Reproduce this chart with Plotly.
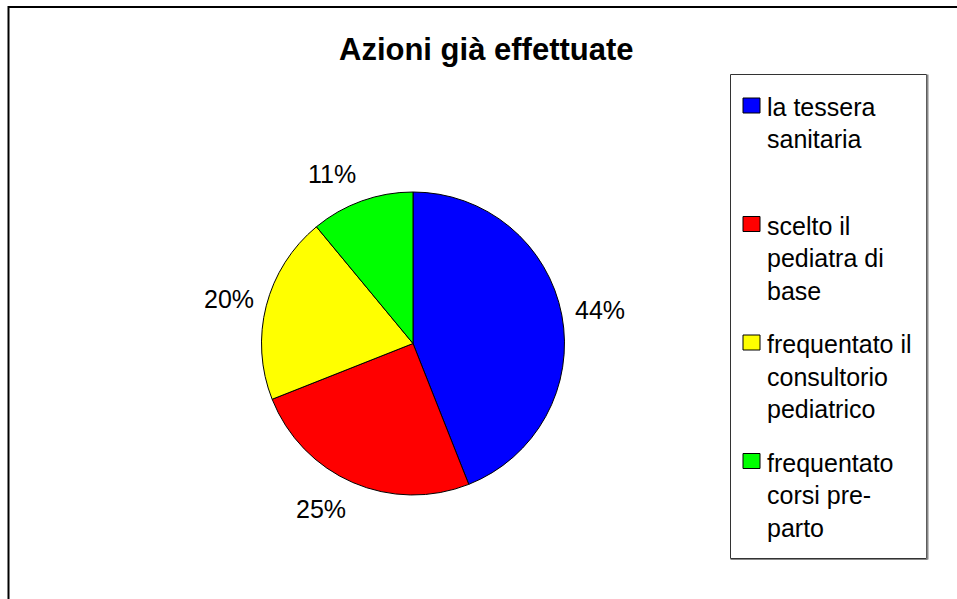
import math
import plotly.graph_objects as go

# Data
categories = [
    "la tessera sanitaria",
    "scelto il pediatra di base",
    "frequentato il consultorio pediatrico",
    "frequentato corsi pre-parto",
]
legend_lines = [
    ["la tessera", "sanitaria"],
    ["scelto il", "pediatra di", "base"],
    ["frequentato il", "consultorio", "pediatrico"],
    ["frequentato", "corsi pre-", "parto"],
]
values = [44, 25, 20, 11]
colors = ["#0000FF", "#FF0000", "#FFFF00", "#00FF00"]
title = "Azioni già effettuate"

W, H = 957, 599
FONT = "Liberation Sans, Arial, sans-serif"


def fx(x):
    return x / W


def fy(y):
    return 1 - y / H


# pie geometry (pixels)
cx, cy, r = 413, 343.5, 151.5

fig = go.Figure()
fig.add_trace(go.Pie(
    labels=categories,
    values=values,
    marker=dict(colors=colors, line=dict(color="black", width=1)),
    sort=False,
    direction="clockwise",
    rotation=0,
    textinfo="none",
    hoverinfo="label+percent",
    showlegend=False,
    domain=dict(x=[fx(cx - r), fx(cx + r)], y=[fy(cy + r), fy(cy - r)]),
))

annotations = []
shapes = []

# percentage labels around the pie
total = sum(values)
cum = 0
for v in values:
    mid = (cum + v / 2) / total * 2 * math.pi
    cum += v
    s, c = math.sin(mid), math.cos(mid)
    x = cx + (r + 11) * s
    y = cy - (r + 29) * c
    annotations.append(dict(
        x=fx(x), y=fy(y), xref="paper", yref="paper",
        text=f"{round(v / total * 100)}%", showarrow=False,
        xanchor="left" if s >= 0 else "right", yanchor="middle",
        font=dict(family=FONT, size=25, color="black"),
    ))

# title
annotations.append(dict(
    x=fx(486), y=fy(49), xref="paper", yref="paper", text=f"<b>{title}</b>",
    showarrow=False, xanchor="center", yanchor="middle",
    font=dict(family=FONT, size=31, color="black"),
))

# outer chart border (top and left edges visible)
shapes.append(dict(type="line", xref="paper", yref="paper",
                   x0=fx(8), y0=fy(7), x1=fx(W + 5), y1=fy(7),
                   line=dict(color="black", width=2)))
shapes.append(dict(type="line", xref="paper", yref="paper",
                   x0=fx(8.5), y0=fy(6), x1=fx(8.5), y1=fy(H + 5),
                   line=dict(color="black", width=2)))

# legend box with shadowed right/bottom edges
lx0, ly0, lx1, ly1 = 730.5, 74.5, 926.5, 558.5
shapes.append(dict(type="rect", xref="paper", yref="paper",
                   x0=fx(lx0), y0=fy(ly1), x1=fx(lx1), y1=fy(ly0),
                   line=dict(color="#333333", width=1), fillcolor="white", layer="below"))
shapes.append(dict(type="line", xref="paper", yref="paper",
                   x0=fx(lx1 + 1), y0=fy(ly0), x1=fx(lx1 + 1), y1=fy(ly1 + 1),
                   line=dict(color="#888888", width=2)))
shapes.append(dict(type="line", xref="paper", yref="paper",
                   x0=fx(lx0), y0=fy(ly1 + 1), x1=fx(lx1 + 1), y1=fy(ly1 + 1),
                   line=dict(color="#888888", width=1)))

# legend entries
first_base, item_step, line_step = 115, 118.5, 32.5
for i, (lines, col) in enumerate(zip(legend_lines, colors)):
    base = first_base + i * item_step
    shapes.append(dict(type="rect", xref="paper", yref="paper",
                       x0=fx(743), x1=fx(760), y0=fy(base - 2), y1=fy(base - 17),
                       line=dict(color="black", width=1), fillcolor=col))
    for j, t in enumerate(lines):
        annotations.append(dict(
            x=fx(765), y=fy(base + j * line_step - 8), xref="paper", yref="paper",
            text=t, showarrow=False, xanchor="left", yanchor="middle",
            font=dict(family=FONT, size=25, color="black"),
        ))

fig.update_layout(
    width=W, height=H,
    margin=dict(l=0, r=0, t=0, b=0),
    paper_bgcolor="white", plot_bgcolor="white",
    annotations=annotations, shapes=shapes,
    showlegend=False,
)

fig.write_html("out.html")
